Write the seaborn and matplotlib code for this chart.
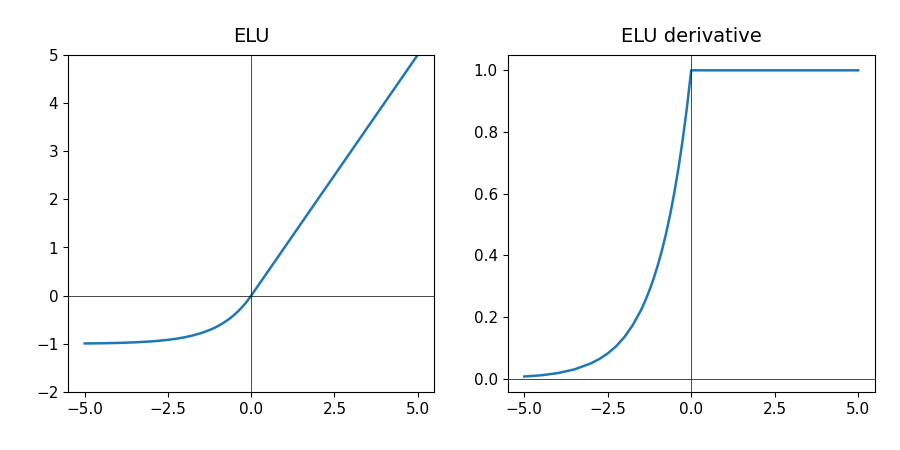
import matplotlib
matplotlib.use("Agg")
import matplotlib.pyplot as plt
import seaborn as sns

# values
x_vals = [-5.0, -4.5, -4.0, -3.5, -3.0, -2.75, -2.5, -2.25, -2.0, -1.75, -1.5,
          -1.375, -1.25, -1.125, -1.0, -0.875, -0.75, -0.625, -0.5, -0.375,
          -0.25, -0.125, 0.0, 5.0]
elu_vals = [-0.993, -0.989, -0.982, -0.970, -0.950, -0.936, -0.918, -0.895,
            -0.865, -0.826, -0.777, -0.747, -0.713, -0.675, -0.632, -0.583,
            -0.528, -0.465, -0.393, -0.313, -0.221, -0.118, 0.0, 5.0]
deriv_vals = [0.007, 0.011, 0.018, 0.030, 0.050, 0.064, 0.082, 0.105, 0.135,
              0.174, 0.223, 0.253, 0.287, 0.325, 0.368, 0.417, 0.472, 0.535,
              0.607, 0.687, 0.779, 0.882, 1.0, 1.0]

fig = plt.figure(figsize=(9, 4.5), dpi=100)
ax1 = fig.add_axes([0.0756, 0.129, 0.407, 0.749])
ax2 = fig.add_axes([0.564, 0.129, 0.408, 0.749])

sns.lineplot(x=x_vals, y=elu_vals, ax=ax1, color='#1f77b4', linewidth=1.8)
ax1.axhline(0, color='black', linewidth=0.5)
ax1.axvline(0, color='black', linewidth=0.5)
ax1.set_ylim(-2, 5)
ax1.set_xlim(-5.5, 5.5)
ax1.set_xticks([-5, -2.5, 0, 2.5, 5])
ax1.set_title('ELU', fontsize=14, pad=9)

sns.lineplot(x=x_vals, y=deriv_vals, ax=ax2, color='#1f77b4', linewidth=1.8,
             sort=False)
ax2.axhline(0, color='black', linewidth=0.5)
ax2.axvline(0, color='black', linewidth=0.5)
ax2.set_xlim(-5.5, 5.5)
ax2.set_ylim(-0.043, 1.05)
ax2.set_xticks([-5, -2.5, 0, 2.5, 5])
ax2.set_title('ELU derivative', fontsize=14, pad=9)

for ax in (ax1, ax2):
    ax.tick_params(labelsize=11)

plt.savefig('out.png', dpi=100)
